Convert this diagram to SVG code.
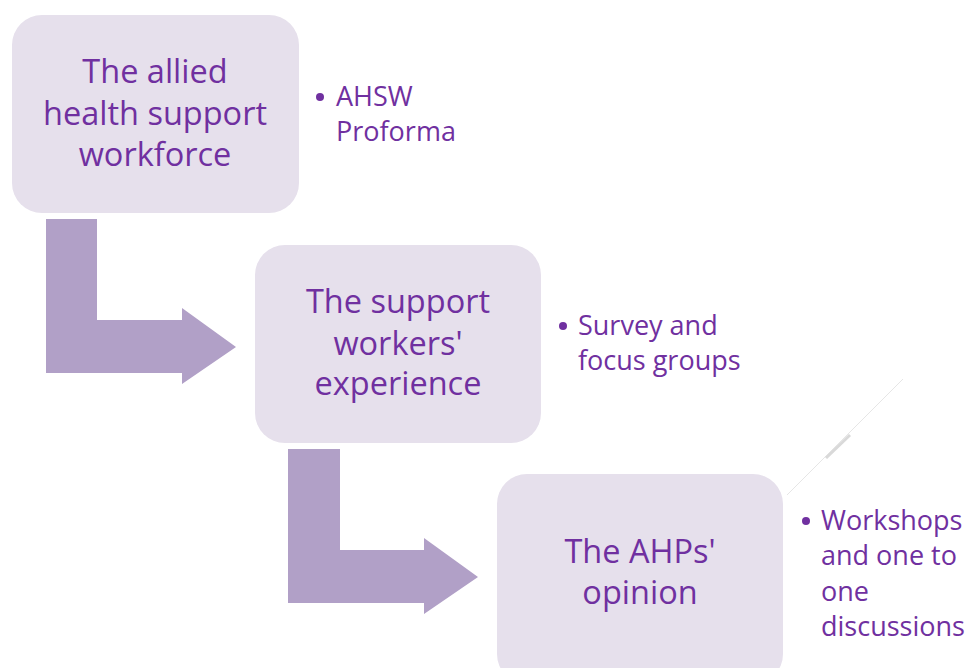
<svg xmlns="http://www.w3.org/2000/svg" width="968" height="668" viewBox="0 0 968 668">
  <style>
    .box { fill: #E6E0EC; }
    .arrow { fill: #B1A0C7; }
    .title { font-family: "Open Sans", "Liberation Sans", sans-serif; font-size: 32.5px; fill: #7030A0; text-anchor: middle; }
    .note { font-family: "Open Sans", "Liberation Sans", sans-serif; font-size: 27px; fill: #7030A0; }
    .dot { fill: #7030A0; }
  </style>
  <rect width="968" height="668" fill="#FFFFFF"/>

  <!-- bent arrows between stages -->
  <g id="connectors">
    <path class="arrow" d="M46,219 H97 V320 H182 V308 L236,347 L182,384 V373 H46 Z"/>
    <path class="arrow" d="M288,449 H340 V550 H424 V538 L478,577 L424,614 V603 H288 Z"/>
  </g>

  <!-- faint diagonal line -->
  <g id="decor">
    <line x1="787" y1="495" x2="903" y2="379" stroke="#E6E6E6" stroke-width="1"/>
    <line x1="826" y1="458" x2="850" y2="435" stroke="#D9D9D9" stroke-width="3"/>
  </g>

  <g id="stage1">
    <rect class="box" x="12" y="15" width="287" height="198" rx="30"/>
    <text class="title" x="155" y="83">The allied</text>
    <text class="title" x="155" y="125">health support</text>
    <text class="title" x="155" y="166">workforce</text>
  </g>
  <g id="note1">
    <circle class="dot" cx="320" cy="97" r="4"/>
    <text class="note" x="336" y="106">AHSW</text>
    <text class="note" x="336" y="141">Proforma</text>
  </g>

  <g id="stage2">
    <rect class="box" x="255" y="245" width="286" height="198" rx="30"/>
    <text class="title" x="398" y="313">The support</text>
    <text class="title" x="398" y="355">workers'</text>
    <text class="title" x="398" y="395">experience</text>
  </g>
  <g id="note2">
    <circle class="dot" cx="563" cy="326" r="4"/>
    <text class="note" x="578" y="335">Survey and</text>
    <text class="note" x="578" y="370">focus groups</text>
  </g>

  <g id="stage3">
    <rect class="box" x="497" y="474" width="286" height="210" rx="30"/>
    <text class="title" x="640" y="563">The AHPs'</text>
    <text class="title" x="640" y="604">opinion</text>
  </g>
  <g id="note3">
    <circle class="dot" cx="806" cy="521" r="4"/>
    <text class="note" x="821" y="530">Workshops</text>
    <text class="note" x="821" y="565">and one to</text>
    <text class="note" x="821" y="601">one</text>
    <text class="note" x="821" y="636">discussions</text>
  </g>
</svg>
